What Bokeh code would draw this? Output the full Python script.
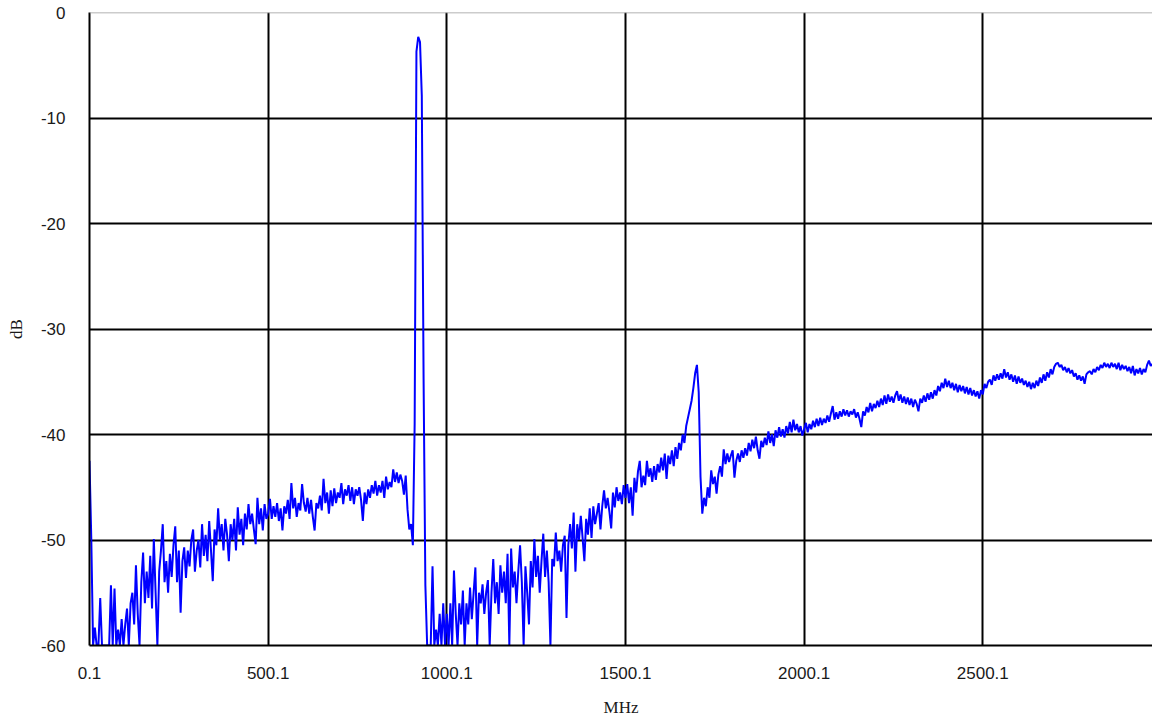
from bokeh.plotting import figure
from bokeh.models import Range1d, FixedTicker, Span, PrintfTickFormatter
from bokeh.embed import file_html
from bokeh.resources import INLINE

# sweep grid (MHz)
freq_start = 0.1
freq_step = 5.0

db = [
    # 0 - 95 MHz
    -42.5, -49.9, -60, -58.3, -60, -60, -55.5, -60, -60, -60, -60, -60, -54.3, -60, -54.6, -60, -58.5, -60, -57.5, -60,
    # 100 - 195
    -58, -56.5, -60, -56, -55, -58, -52.4, -57, -60, -54, -51.2, -56, -53, -55.5, -51.5, -56.5, -49.9, -55, -60, -53,
    # 200 - 295
    -51, -48.5, -54, -52, -55, -51.3, -53.5, -50.5, -48.7, -54, -51, -56.9, -52, -50.7, -53.6, -51, -52.5, -50, -49, -53,
    # 300 - 395
    -51, -50, -52.6, -48.5, -51.5, -49.5, -52, -48.2, -51, -53.9, -49, -50.5, -47, -50, -48.5, -51, -48, -49.5, -52, -48.5,
    # 400 - 495
    -50, -48, -51, -46.9, -49.5, -48, -50.5, -47.5, -49, -46.6, -48.5, -47.5, -49, -50.4, -46, -48.5, -47, -49.1, -46.6, -48,
    # 500 - 595
    -47.5, -46.1, -48, -46.8, -47.8, -46.5, -48.2, -47, -49.1, -46.8, -47.5, -46.2, -48, -44.6, -47, -46, -47.8, -46.5, -47.2, -44.7,
    # 600 - 695
    -46.5, -47.3, -46, -47.5, -46.2, -47.8, -49.1, -46.5, -47, -45.8, -47.2, -44.2, -46.5, -45.5, -47.5, -45.3, -46.8, -45.1, -46.5, -45.5,
    # 700 - 795
    -46, -44.6, -46.6, -45.2, -45.8, -44.8, -46.3, -45, -46.6, -45.2, -45.8, -45, -46.2, -48.2, -45.5, -46.6, -45.2, -46, -44.8, -45.6,
    # 800 - 895
    -44.4, -45.8, -44.8, -45.5, -44.4, -46, -44, -45.2, -44.5, -45, -43.3, -44.5, -43.6, -44.6, -43.8, -44.4, -45.7, -43.9, -47.1, -49,
    # 900 - 995 (carrier)
    -48.5, -50.5, -39, -3.7, -2.3, -2.8, -7.9, -34.7, -54.3, -60, -60, -60, -52.5, -60, -58.5, -60, -57, -60, -56, -60,
    # 1000 - 1095
    -57, -60, -56, -60, -52.9, -57, -60, -56, -58, -54.8, -60, -56, -58, -54.5, -57.5, -55, -52.6, -60, -55, -56,
    # 1100 - 1195
    -54.2, -57, -55, -53.8, -60, -55, -51.8, -56, -54, -57, -52.4, -55, -53, -56, -51.3, -60, -50.8, -54.5, -53, -56,
    # 1200 - 1295
    -53, -50.5, -54, -60, -52.5, -55, -58, -52, -54.5, -49.9, -53.5, -51.5, -55, -52, -49.4, -53.5, -51, -54, -60, -51.8,
    # 1300 - 1395
    -52.5, -49.3, -52, -51, -53, -50.5, -49.6, -57.4, -50.5, -48.5, -50.8, -47.4, -53, -48.5, -50, -47.7, -49.8, -52, -48, -49.5,
    # 1400 - 1495
    -47, -49.8, -46.8, -48.5, -47.5, -46.5, -49, -46.8, -45.3, -47, -46, -47.3, -48.9, -45.5, -46.9, -45, -46.3, -45.5, -46.6, -44.8,
    # 1500 - 1595
    -46, -44.7, -46.5, -45, -47.7, -44.1, -45.5, -43.5, -42.5, -45, -43.9, -44.8, -42.5, -44, -43.2, -44.5, -43, -44.3, -42.8, -43.6,
    # 1600 - 1695
    -42.2, -43.4, -41.8, -44.2, -42, -42.8, -41.5, -43, -41.2, -42.3, -40.8, -41.5, -40, -40.8, -39.2, -38.4, -37.6, -36.8, -35.6, -34.2,
    # 1700 - 1795
    -33.4, -36, -44, -47.5, -46, -46.8, -45, -46, -43.4, -44.7, -44, -45.6, -43.8, -43, -44, -41.4, -42.8, -41.8, -42.6, -42,
    # 1800 - 1895
    -41.5, -44.1, -42.5, -41.8, -42.6, -41.5, -42.2, -41.3, -42, -40.8, -41.6, -40.5, -41.3, -40.2, -41.5, -42.3, -40.6, -41.2, -40.3, -41,
    # 1900 - 1995
    -39.7, -40.8, -40, -41.1, -39.6, -40.3, -39.3, -40.2, -39.5, -40.3, -39.2, -39.9, -38.8, -39.8, -38.6, -39.6, -39, -39.8, -39.2, -40.1,
    # 2000 - 2095
    -39.5, -38.9, -39.8, -39, -39.5, -38.7, -39.3, -38.5, -39.2, -38.4, -39.1, -38.5, -38.9, -38.2, -38.8, -38, -37.3, -38.6, -37.9, -38.5,
    # 2100 - 2195
    -37.8, -38.3, -37.6, -38.2, -37.7, -38.3, -37.8, -38.1, -37.6, -38.4, -37.9, -38.5, -39.3, -37.8, -38.2, -37.4, -37.9, -37, -37.8, -37.1,
    # 2200 - 2295
    -37.5, -36.8, -37.4, -36.6, -37.2, -36.3, -37.1, -36.2, -36.9, -36.4, -37, -36.3, -35.9, -36.8, -36.2, -37, -36.4, -37.1, -36.5, -37.2,
    # 2300 - 2395
    -36.6, -37.4, -36.7, -37.1, -37.8, -36.6, -37, -36.3, -36.9, -36.1, -36.7, -36, -36.6, -35.8, -36.3, -35.4, -35.9, -35.1, -35.6, -34.7,
    # 2400 - 2495
    -35.5, -34.9, -35.6, -35.1, -35.8, -35.2, -36, -35.3, -35.9, -35.4, -36.1, -35.5, -36.2, -35.6, -36.3, -35.8, -36.4, -35.9, -36.6, -35.8,
    # 2500 - 2595
    -36.2, -35.2, -35.6, -35, -34.8, -35.3, -34.4, -34.9, -34.3, -34.8, -34.2, -34.7, -33.8, -34.6, -34.1, -34.8, -34.3, -35, -34.4, -35.2,
    # 2600 - 2695
    -34.5, -35.1, -34.7, -35.3, -34.9, -35.5, -35, -35.7, -35.1, -35.6, -34.9, -35.4, -34.6, -35.1, -34.3, -34.9, -34.1, -34.6, -33.8, -34.3,
    # 2700 - 2795
    -33.6, -33.3, -33.2, -33.6, -33.4, -33.9, -33.6, -34.1, -33.7, -34.2, -33.9, -34.5, -34.2, -34.8, -34.4, -34.9, -34.5, -35.2, -34.3, -34.1,
    # 2800 - 2895
    -34, -34.3, -33.8, -34.1, -33.6, -33.9, -33.4, -33.7, -33.2, -33.6, -33.3, -33.7, -33.2, -33.6, -33.3, -33.8, -33.2, -33.9, -33.4, -33.8,
    # 2900 - 2975
    -33.5, -34, -33.6, -34.2, -33.5, -34.4, -33.8, -34.2, -33.7, -34.3, -33.8, -34.1, -33.4, -33, -33.5, -33.3,
]
freq = [round(freq_start + freq_step * i, 1) for i in range(len(db))]

x_ticks = [0.1, 500.1, 1000.1, 1500.1, 2000.1, 2500.1]
y_ticks = [-60, -50, -40, -30, -20, -10, 0]

p = figure(width=1152, height=721, output_backend="svg", toolbar_location=None,
           x_range=Range1d(0.1, 2975.1), y_range=Range1d(-60, 0),
           min_border_left=89, min_border_right=0, min_border_top=12, min_border_bottom=76)
p.outline_line_color = None
p.background_fill_color = "white"
p.border_fill_color = "white"

p.line(freq, db, color="#0000FF", line_width=2)

tick_font = "Liberation Sans"
for ax in (p.xaxis[0], p.yaxis[0]):
    ax.axis_line_color = "black"
    ax.axis_line_width = 2
    ax.major_tick_line_color = None
    ax.minor_tick_line_color = None
    ax.major_tick_out = 0
    ax.major_tick_in = 0
    ax.major_label_text_font = tick_font
    ax.major_label_text_font_size = "17px"
    ax.major_label_text_color = "#1a1a1a"
    ax.axis_label_text_font = "Liberation Serif"
    ax.axis_label_text_font_size = "17px"
    ax.axis_label_text_font_style = "normal"
    ax.axis_label_text_color = "#1a1a1a"

p.xaxis.ticker = FixedTicker(ticks=x_ticks)
p.xaxis.formatter = PrintfTickFormatter(format="%.1f")
p.xaxis.major_label_standoff = 21
p.xaxis.axis_label = "MHz"
p.xaxis.axis_label_standoff = 16

p.yaxis.ticker = FixedTicker(ticks=y_ticks)
p.yaxis.formatter = PrintfTickFormatter(format="%d")
p.yaxis.major_label_standoff = 24
p.yaxis.axis_label = "dB"
p.yaxis.axis_label_standoff = 12

p.xgrid.ticker = FixedTicker(ticks=x_ticks[1:])
p.ygrid.ticker = FixedTicker(ticks=y_ticks[1:-1])
for g in (p.xgrid[0], p.ygrid[0]):
    g.grid_line_color = "black"
    g.grid_line_width = 2
    g.grid_line_alpha = 1.0

p.add_layout(Span(location=0, dimension="width", line_color="#999999", line_width=1.5))

open("out.html", "w").write(file_html(p, INLINE))
